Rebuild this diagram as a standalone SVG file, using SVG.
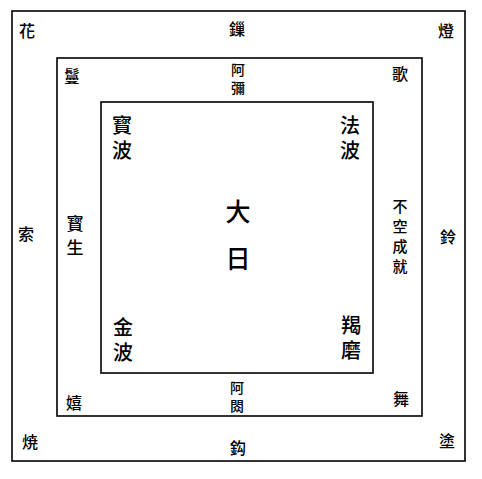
<svg xmlns="http://www.w3.org/2000/svg" width="482" height="479" viewBox="0 0 482 479">
<style>
.box{fill:none;stroke:#000;stroke-width:1.6}
text{font-family:"Noto Sans CJK TC","Noto Sans CJK JP",sans-serif;font-size:16px;font-weight:500;fill:#000;text-anchor:middle;dominant-baseline:central}
.v{writing-mode:vertical-rl;text-orientation:upright}
.big{font-size:25px;letter-spacing:22px}
.mid{font-size:20px;letter-spacing:5px}
.sm{font-size:14px;letter-spacing:4px}
.sg{font-size:15px;letter-spacing:5px}
</style>
<rect width="482" height="479" fill="#fff"/>
<g id="frames">
<rect class="box" x="12" y="11" width="453" height="450"/>
<rect class="box" x="57" y="58" width="365" height="358"/>
<rect class="box" x="101" y="102" width="272" height="271"/>
</g>
<g id="outer">
<g id="n-hua"><text x="27" y="30">花</text></g>
<g id="n-suo"><text x="237" y="28">鏁</text></g>
<g id="n-deng"><text x="446" y="30">燈</text></g>
<g id="n-suo2"><text x="26" y="233">索</text></g>
<g id="n-ling"><text x="448" y="236">鈴</text></g>
<g id="n-shao"><text x="30" y="441">焼</text></g>
<g id="n-gou"><text x="238" y="447">鈎</text></g>
<g id="n-tu"><text x="447" y="440">塗</text></g>
</g>
<g id="middle">
<g id="n-man"><text x="72" y="75">鬘</text></g>
<g id="n-amida"><text class="v sm" x="238" y="81">阿彌</text></g>
<g id="n-ge"><text x="400" y="73">歌</text></g>
<g id="n-hosho"><text class="v mid" x="75" y="239" style="font-size:17px;letter-spacing:7px">寳生</text></g>
<g id="n-fukujoju"><text class="v sg" x="400" y="239">不空成就</text></g>
<g id="n-xi"><text x="74" y="402">嬉</text></g>
<g id="n-ashuku"><text class="v sm" x="237" y="399">阿閦</text></g>
<g id="n-wu"><text x="401" y="398">舞</text></g>
</g>
<g id="inner">
<g id="n-hoha"><text class="v mid" x="122" y="140">寳波</text></g>
<g id="n-hoha2"><text class="v mid" x="350" y="140">法波</text></g>
<g id="n-dainichi"><text class="v big" x="238" y="246">大日</text></g>
<g id="n-konpa"><text class="v mid" x="123" y="342">金波</text></g>
<g id="n-katsuma"><text class="v mid" x="351" y="340">羯磨</text></g>
</g>
</svg>
